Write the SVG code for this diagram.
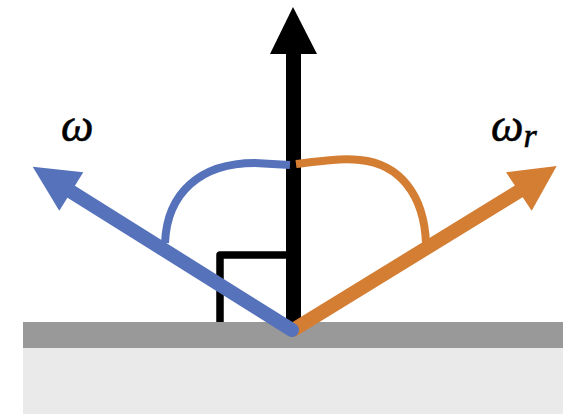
<svg xmlns="http://www.w3.org/2000/svg" width="577" height="414" viewBox="0 0 577 414">
  <style>
    .lbl { font-family: "Liberation Serif", "DejaVu Serif", serif; font-style: italic; fill: #000; }
    .arc { fill: none; stroke-width: 8; stroke-linecap: butt; }
  </style>
  <rect x="0" y="0" width="577" height="414" fill="#ffffff"/>
  <g id="surface">
    <rect x="23" y="348" width="540" height="66" fill="#EAEAEA"/>
    <rect x="23" y="322" width="540" height="26" fill="#999999"/>
  </g>
  <g id="connectors">
    <g id="right-angle">
      <path d="M220 322 L220 255 L293 255" fill="none" stroke="#000" stroke-width="7.5" stroke-linejoin="round"/>
    </g>
    <g id="normal">
      <rect x="286" y="52" width="15" height="275" fill="#000"/>
      <polygon points="293,7 317,54 270,54" fill="#000"/>
    </g>
    <g id="angle-arcs">
      <path class="arc" stroke="#5572BB" d="M165 243 C167 193 200 163 255 163 L290 165"/>
      <path class="arc" stroke="#D47E34" d="M296 164 C320 161 340 158 360 160 C400 164 424 195 426 243"/>
    </g>
    <g id="reflected">
      <line x1="293" y1="330" x2="521" y2="190" stroke="#D47E34" stroke-width="14" stroke-linecap="round"/>
      <polygon points="556.7,166 506,172.3 531.7,210.7" fill="#D47E34"/>
    </g>
    <g id="incident">
      <line x1="292" y1="330" x2="70" y2="191" stroke="#5572BB" stroke-width="14" stroke-linecap="round"/>
      <polygon points="32.7,166.7 83.3,172.3 59.3,210.7" fill="#5572BB"/>
    </g>
  </g>
  <g id="label-omega">
    <text class="lbl" x="61" y="141" font-size="46" stroke="#000" stroke-width="0.6">ω</text>
  </g>
  <g id="label-omega-r">
    <text class="lbl" x="491" y="141" font-size="46" stroke="#000" stroke-width="0.6">ω<tspan font-size="34" dy="6">r</tspan></text>
  </g>
</svg>
